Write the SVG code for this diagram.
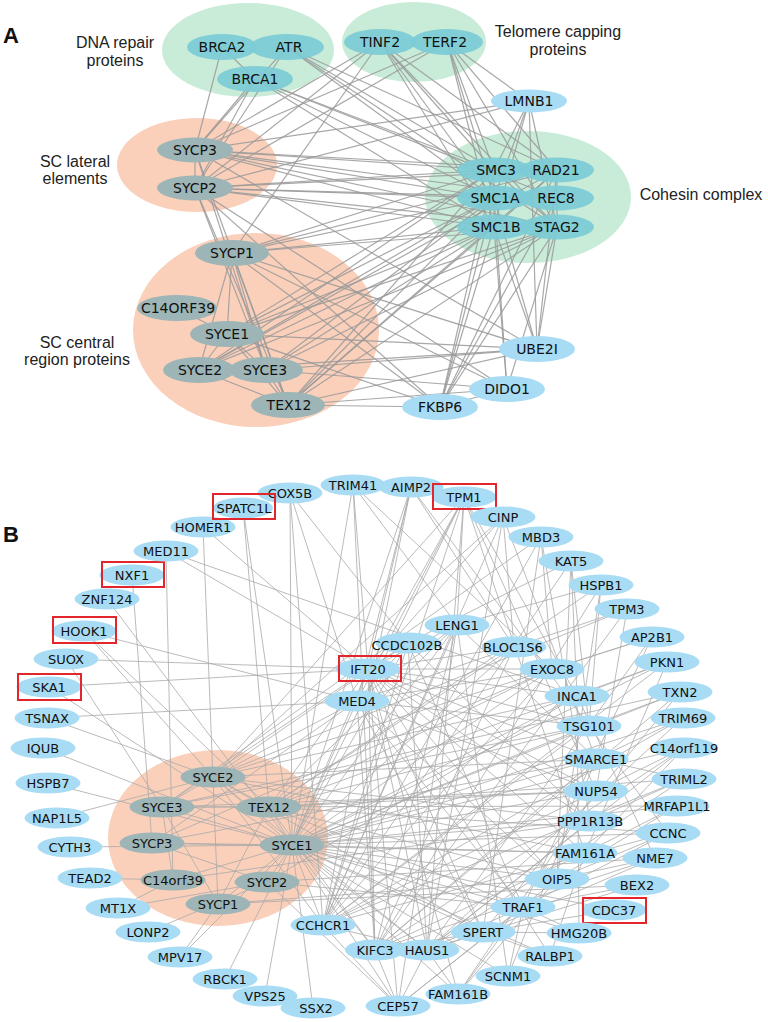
<svg xmlns="http://www.w3.org/2000/svg" width="768" height="1022" viewBox="0 0 768 1022">
<style>
.bg{fill:#ffffff}
.rg{fill:#c8ecd8}
.rp{fill:#fad0bb}
.ea line{stroke:#9a9a9a;stroke-width:1.2;opacity:.85}
.eb line{stroke:#a9a9a9;stroke-width:.8}
.t ellipse{fill:#7ccbd6;opacity:.92}
.g ellipse{fill:#9db5b6}
.b ellipse{fill:#a8dcf4}
.la{font-family:"DejaVu Sans",Verdana,sans-serif;font-size:14px;text-anchor:middle;dominant-baseline:central;fill:#111}
.lb{font-family:"DejaVu Sans",Verdana,sans-serif;font-size:13px;text-anchor:middle;dominant-baseline:central;fill:#111}
.cap{font-family:"Liberation Sans",Arial,sans-serif;font-size:16px;text-anchor:middle;fill:#222}
.pl{font-family:"Liberation Sans",Arial,sans-serif;font-size:22px;font-weight:bold;fill:#111}
.box{fill:none;stroke:#e3262b;stroke-width:2}
</style>
<rect class="bg" x="0" y="0" width="768" height="1022"/>
<text class="pl" x="3" y="43">A</text>
<text class="pl" x="3" y="542">B</text>

<g id="regions">
<g id="r-dna"><ellipse class="rg" cx="248" cy="50" rx="86" ry="47"/><text class="cap" x="115" y="48">DNA repair</text><text class="cap" x="115" y="66">proteins</text></g>
<g id="r-telomere"><ellipse class="rg" cx="414" cy="42" rx="72" ry="40"/><text class="cap" x="558" y="37">Telomere capping</text><text class="cap" x="558" y="55">proteins</text></g>
<g id="r-lateral"><ellipse class="rp" cx="197" cy="165" rx="80" ry="47"/><text class="cap" x="75" y="167">SC lateral</text><text class="cap" x="75" y="184">elements</text></g>
<g id="r-central"><ellipse class="rp" cx="256" cy="330" rx="123" ry="97"/><text class="cap" x="77" y="348">SC central</text><text class="cap" x="77" y="365">region proteins</text></g>
<g id="r-cohesin"><ellipse class="rg" cx="528" cy="197" rx="103" ry="66"/><text class="cap" x="701" y="200">Cohesin complex</text></g>
<g id="r-scB"><ellipse class="rp" cx="218" cy="838" rx="110" ry="88"/></g>
</g>

<g id="connectors-A" class="ea">
<line x1="222" y1="47" x2="255" y2="79"/><line x1="222" y1="47" x2="195" y2="150"/><line x1="287" y1="47" x2="195" y2="150"/><line x1="287" y1="47" x2="195" y2="188"/><line x1="255" y1="79" x2="195" y2="150"/><line x1="255" y1="79" x2="195" y2="188"/>
<line x1="287" y1="47" x2="494" y2="170"/><line x1="287" y1="47" x2="494" y2="198"/><line x1="287" y1="47" x2="557" y2="170"/><line x1="287" y1="47" x2="557" y2="227"/>
<line x1="255" y1="79" x2="494" y2="170"/><line x1="255" y1="79" x2="494" y2="198"/><line x1="255" y1="79" x2="557" y2="198"/><line x1="255" y1="79" x2="494" y2="227"/>
<line x1="380" y1="42" x2="195" y2="150"/><line x1="380" y1="42" x2="195" y2="188"/><line x1="380" y1="42" x2="232" y2="253"/><line x1="380" y1="42" x2="494" y2="170"/><line x1="380" y1="42" x2="494" y2="198"/><line x1="380" y1="42" x2="494" y2="227"/><line x1="380" y1="42" x2="557" y2="170"/><line x1="380" y1="42" x2="557" y2="227"/>
<line x1="447" y1="42" x2="195" y2="150"/><line x1="447" y1="42" x2="494" y2="170"/><line x1="447" y1="42" x2="494" y2="198"/><line x1="447" y1="42" x2="557" y2="170"/><line x1="447" y1="42" x2="557" y2="227"/><line x1="447" y1="42" x2="529" y2="101"/><line x1="447" y1="42" x2="494" y2="227"/><line x1="447" y1="42" x2="195" y2="188"/>
<line x1="529" y1="101" x2="195" y2="150"/><line x1="529" y1="101" x2="195" y2="188"/><line x1="529" y1="101" x2="494" y2="170"/><line x1="529" y1="101" x2="494" y2="198"/><line x1="529" y1="101" x2="557" y2="227"/><line x1="529" y1="101" x2="494" y2="227"/><line x1="529" y1="101" x2="537" y2="349"/>
<line x1="195" y1="150" x2="195" y2="188"/><line x1="195" y1="150" x2="494" y2="170"/><line x1="195" y1="150" x2="557" y2="170"/><line x1="195" y1="150" x2="494" y2="198"/><line x1="195" y1="150" x2="557" y2="198"/><line x1="195" y1="150" x2="494" y2="227"/><line x1="195" y1="150" x2="557" y2="227"/><line x1="195" y1="150" x2="288" y2="405"/><line x1="195" y1="150" x2="266" y2="370"/><line x1="195" y1="150" x2="537" y2="349"/>
<line x1="195" y1="188" x2="494" y2="170"/><line x1="195" y1="188" x2="557" y2="170"/><line x1="195" y1="188" x2="494" y2="198"/><line x1="195" y1="188" x2="557" y2="198"/><line x1="195" y1="188" x2="494" y2="227"/><line x1="195" y1="188" x2="557" y2="227"/><line x1="195" y1="188" x2="266" y2="370"/><line x1="195" y1="188" x2="288" y2="405"/><line x1="195" y1="188" x2="440" y2="407"/><line x1="195" y1="188" x2="507" y2="389"/>
<line x1="232" y1="253" x2="494" y2="170"/><line x1="232" y1="253" x2="494" y2="198"/><line x1="232" y1="253" x2="494" y2="227"/><line x1="232" y1="253" x2="557" y2="227"/><line x1="232" y1="253" x2="557" y2="170"/><line x1="232" y1="253" x2="227" y2="334"/><line x1="232" y1="253" x2="199" y2="370"/><line x1="232" y1="253" x2="266" y2="370"/><line x1="232" y1="253" x2="288" y2="405"/><line x1="232" y1="253" x2="440" y2="407"/><line x1="232" y1="253" x2="507" y2="389"/><line x1="232" y1="253" x2="537" y2="349"/>
<line x1="177" y1="308" x2="227" y2="334"/>
<line x1="227" y1="334" x2="199" y2="370"/><line x1="227" y1="334" x2="266" y2="370"/><line x1="227" y1="334" x2="288" y2="405"/><line x1="227" y1="334" x2="494" y2="170"/><line x1="227" y1="334" x2="494" y2="198"/><line x1="227" y1="334" x2="494" y2="227"/><line x1="227" y1="334" x2="557" y2="227"/><line x1="227" y1="334" x2="537" y2="349"/><line x1="227" y1="334" x2="440" y2="407"/>
<line x1="199" y1="370" x2="266" y2="370"/><line x1="199" y1="370" x2="288" y2="405"/><line x1="199" y1="370" x2="494" y2="170"/><line x1="199" y1="370" x2="494" y2="198"/><line x1="199" y1="370" x2="494" y2="227"/><line x1="199" y1="370" x2="557" y2="170"/><line x1="199" y1="370" x2="557" y2="227"/><line x1="199" y1="370" x2="537" y2="349"/>
<line x1="266" y1="370" x2="288" y2="405"/><line x1="266" y1="370" x2="494" y2="198"/><line x1="266" y1="370" x2="494" y2="227"/><line x1="266" y1="370" x2="557" y2="227"/><line x1="266" y1="370" x2="537" y2="349"/><line x1="266" y1="370" x2="507" y2="389"/>
<line x1="288" y1="405" x2="494" y2="170"/><line x1="288" y1="405" x2="494" y2="198"/><line x1="288" y1="405" x2="494" y2="227"/><line x1="288" y1="405" x2="557" y2="170"/><line x1="288" y1="405" x2="557" y2="227"/><line x1="288" y1="405" x2="440" y2="407"/><line x1="288" y1="405" x2="507" y2="389"/><line x1="288" y1="405" x2="537" y2="349"/>
<line x1="537" y1="349" x2="494" y2="198"/><line x1="537" y1="349" x2="494" y2="227"/><line x1="537" y1="349" x2="557" y2="227"/><line x1="537" y1="349" x2="557" y2="170"/>
<line x1="507" y1="389" x2="494" y2="198"/><line x1="507" y1="389" x2="494" y2="227"/><line x1="507" y1="389" x2="557" y2="227"/><line x1="507" y1="389" x2="440" y2="407"/>
<line x1="440" y1="407" x2="494" y2="198"/><line x1="440" y1="407" x2="494" y2="227"/><line x1="440" y1="407" x2="494" y2="170"/><line x1="440" y1="407" x2="557" y2="227"/><line x1="440" y1="407" x2="557" y2="170"/><line x1="440" y1="407" x2="557" y2="198"/>
<line x1="494" y1="170" x2="557" y2="170"/><line x1="494" y1="170" x2="494" y2="198"/><line x1="494" y1="198" x2="557" y2="198"/><line x1="494" y1="227" x2="557" y2="227"/><line x1="557" y1="198" x2="557" y2="227"/><line x1="557" y1="170" x2="557" y2="198"/><line x1="494" y1="198" x2="494" y2="227"/><line x1="494" y1="170" x2="557" y2="227"/><line x1="494" y1="227" x2="557" y2="170"/>
</g>

<g id="nodes-A">
<g id="a-BRCA2" class="t"><ellipse cx="222" cy="47" rx="35" ry="13"/><text class="la" x="222" y="47">BRCA2</text></g>
<g id="a-ATR" class="t"><ellipse cx="287" cy="47" rx="37" ry="13"/><text class="la" x="289" y="47">ATR</text></g>
<g id="a-BRCA1" class="t"><ellipse cx="255" cy="79" rx="38" ry="13"/><text class="la" x="255" y="79">BRCA1</text></g>
<g id="a-TINF2" class="t"><ellipse cx="380" cy="42" rx="36" ry="13"/><text class="la" x="380" y="42">TINF2</text></g>
<g id="a-TERF2" class="t"><ellipse cx="447" cy="42" rx="36" ry="13"/><text class="la" x="445" y="42">TERF2</text></g>
<g id="a-LMNB1" class="b"><ellipse cx="529" cy="101" rx="38" ry="11.5"/><text class="la" x="529" y="101">LMNB1</text></g>
<g id="a-SMC3" class="t"><ellipse cx="494" cy="170" rx="37" ry="12.5"/><text class="la" x="496" y="170">SMC3</text></g>
<g id="a-RAD21" class="t"><ellipse cx="557" cy="170" rx="37" ry="12.5"/><text class="la" x="556" y="170">RAD21</text></g>
<g id="a-SMC1A" class="t"><ellipse cx="494" cy="198" rx="37" ry="12.5"/><text class="la" x="495" y="198">SMC1A</text></g>
<g id="a-REC8" class="t"><ellipse cx="557" cy="198" rx="37" ry="12.5"/><text class="la" x="556" y="198">REC8</text></g>
<g id="a-SMC1B" class="t"><ellipse cx="494" cy="227" rx="37" ry="12.5"/><text class="la" x="496" y="227">SMC1B</text></g>
<g id="a-STAG2" class="t"><ellipse cx="557" cy="227" rx="37" ry="12.5"/><text class="la" x="557" y="227">STAG2</text></g>
<g id="a-SYCP3" class="g"><ellipse cx="195" cy="150" rx="38" ry="12.5"/><text class="la" x="195" y="150">SYCP3</text></g>
<g id="a-SYCP2" class="g"><ellipse cx="195" cy="188" rx="38" ry="12.5"/><text class="la" x="195" y="188">SYCP2</text></g>
<g id="a-SYCP1" class="g"><ellipse cx="232" cy="253" rx="37" ry="13"/><text class="la" x="232" y="253">SYCP1</text></g>
<g id="a-C14ORF39" class="g"><ellipse cx="177" cy="308" rx="40" ry="13"/><text class="la" x="178" y="308">C14ORF39</text></g>
<g id="a-SYCE1" class="g"><ellipse cx="227" cy="334" rx="37" ry="13"/><text class="la" x="227" y="334">SYCE1</text></g>
<g id="a-SYCE2" class="g"><ellipse cx="199" cy="370" rx="36" ry="13"/><text class="la" x="200" y="370">SYCE2</text></g>
<g id="a-SYCE3" class="g"><ellipse cx="266" cy="370" rx="37" ry="13"/><text class="la" x="265" y="370">SYCE3</text></g>
<g id="a-TEX12" class="g"><ellipse cx="288" cy="405" rx="37" ry="13"/><text class="la" x="289" y="405">TEX12</text></g>
<g id="a-UBE2I" class="b"><ellipse cx="537" cy="349" rx="38" ry="13"/><text class="la" x="537" y="349">UBE2I</text></g>
<g id="a-DIDO1" class="b"><ellipse cx="507" cy="389" rx="38" ry="13"/><text class="la" x="507" y="389">DIDO1</text></g>
<g id="a-FKBP6" class="b"><ellipse cx="440" cy="407" rx="38" ry="13"/><text class="la" x="440" y="407">FKBP6</text></g>
</g>

<g id="connectors-B" class="eb">
<line x1="292" y1="845" x2="213" y2="777"/><line x1="292" y1="845" x2="162" y2="807"/><line x1="292" y1="845" x2="269" y2="807"/><line x1="292" y1="845" x2="152" y2="843"/><line x1="292" y1="845" x2="173" y2="880"/><line x1="292" y1="845" x2="267" y2="882"/><line x1="292" y1="845" x2="218" y2="904"/><line x1="213" y1="777" x2="162" y2="807"/><line x1="213" y1="777" x2="269" y2="807"/><line x1="162" y1="807" x2="269" y2="807"/><line x1="152" y1="843" x2="267" y2="882"/><line x1="162" y1="807" x2="218" y2="904"/><line x1="269" y1="807" x2="218" y2="904"/><line x1="173" y1="880" x2="162" y2="807"/>
<line x1="43" y1="748" x2="292" y2="845"/><line x1="48" y1="783" x2="292" y2="845"/><line x1="57" y1="818" x2="213" y2="777"/><line x1="70" y1="847" x2="292" y2="845"/><line x1="90" y1="878" x2="173" y2="880"/><line x1="118" y1="908" x2="267" y2="882"/><line x1="148" y1="932" x2="267" y2="882"/><line x1="180" y1="957" x2="292" y2="845"/><line x1="225" y1="979" x2="292" y2="845"/><line x1="265" y1="996" x2="292" y2="845"/><line x1="313" y1="1008" x2="292" y2="845"/><line x1="323" y1="925" x2="213" y2="777"/><line x1="47" y1="718" x2="213" y2="777"/><line x1="49" y1="687" x2="292" y2="845"/><line x1="66" y1="659" x2="162" y2="807"/><line x1="84" y1="631" x2="213" y2="777"/><line x1="107" y1="599" x2="292" y2="845"/><line x1="132" y1="575" x2="152" y2="843"/><line x1="166" y1="551" x2="173" y2="880"/><line x1="203" y1="527" x2="218" y2="904"/><line x1="243" y1="508" x2="269" y2="807"/><line x1="243" y1="508" x2="292" y2="845"/><line x1="84" y1="631" x2="269" y2="807"/>
<line x1="292" y1="845" x2="552" y2="669"/><line x1="292" y1="845" x2="577" y2="696"/><line x1="292" y1="845" x2="589" y2="726"/><line x1="292" y1="845" x2="596" y2="759"/><line x1="292" y1="845" x2="596" y2="791"/><line x1="292" y1="845" x2="590" y2="821"/><line x1="292" y1="845" x2="585" y2="853"/><line x1="292" y1="845" x2="557" y2="879"/><line x1="292" y1="845" x2="523" y2="907"/><line x1="292" y1="845" x2="483" y2="932"/><line x1="292" y1="845" x2="427" y2="950"/><line x1="292" y1="845" x2="375" y2="950"/><line x1="292" y1="845" x2="323" y2="925"/><line x1="292" y1="845" x2="457" y2="625"/><line x1="292" y1="845" x2="408" y2="643"/><line x1="292" y1="845" x2="368" y2="669"/><line x1="292" y1="845" x2="357" y2="701"/><line x1="292" y1="845" x2="411" y2="487"/><line x1="292" y1="845" x2="464" y2="497"/><line x1="292" y1="845" x2="353" y2="485"/><line x1="292" y1="845" x2="290" y2="493"/><line x1="292" y1="845" x2="514" y2="647"/><line x1="292" y1="845" x2="683" y2="718"/><line x1="292" y1="845" x2="680" y2="692"/><line x1="292" y1="845" x2="667" y2="662"/><line x1="292" y1="845" x2="684" y2="748"/><line x1="292" y1="845" x2="677" y2="806"/><line x1="292" y1="845" x2="668" y2="833"/><line x1="292" y1="845" x2="579" y2="933"/><line x1="292" y1="845" x2="550" y2="956"/><line x1="292" y1="845" x2="508" y2="976"/><line x1="292" y1="845" x2="458" y2="994"/><line x1="292" y1="845" x2="398" y2="1006"/><line x1="292" y1="845" x2="614" y2="910"/>
<line x1="269" y1="807" x2="368" y2="669"/><line x1="269" y1="807" x2="457" y2="625"/><line x1="269" y1="807" x2="514" y2="647"/><line x1="269" y1="807" x2="552" y2="669"/><line x1="269" y1="807" x2="589" y2="726"/><line x1="269" y1="807" x2="596" y2="791"/><line x1="269" y1="807" x2="667" y2="662"/><line x1="269" y1="807" x2="684" y2="779"/><line x1="269" y1="807" x2="668" y2="833"/><line x1="269" y1="807" x2="557" y2="879"/><line x1="269" y1="807" x2="523" y2="907"/><line x1="269" y1="807" x2="375" y2="950"/><line x1="269" y1="807" x2="601" y2="585"/>
<line x1="213" y1="777" x2="357" y2="701"/><line x1="213" y1="777" x2="408" y2="643"/><line x1="213" y1="777" x2="577" y2="696"/><line x1="213" y1="777" x2="596" y2="759"/><line x1="213" y1="777" x2="590" y2="821"/><line x1="213" y1="777" x2="585" y2="853"/><line x1="213" y1="777" x2="627" y2="609"/><line x1="213" y1="777" x2="652" y2="637"/><line x1="213" y1="777" x2="427" y2="950"/><line x1="213" y1="777" x2="483" y2="932"/><line x1="213" y1="777" x2="503" y2="517"/><line x1="213" y1="777" x2="464" y2="497"/>
<line x1="162" y1="807" x2="368" y2="669"/><line x1="162" y1="807" x2="589" y2="726"/><line x1="162" y1="807" x2="596" y2="791"/><line x1="162" y1="807" x2="677" y2="806"/><line x1="162" y1="807" x2="680" y2="692"/><line x1="162" y1="807" x2="541" y2="537"/>
<line x1="152" y1="843" x2="357" y2="701"/><line x1="152" y1="843" x2="552" y2="669"/><line x1="152" y1="843" x2="596" y2="759"/><line x1="152" y1="843" x2="585" y2="853"/>
<line x1="267" y1="882" x2="577" y2="696"/><line x1="267" y1="882" x2="655" y2="858"/><line x1="267" y1="882" x2="523" y2="907"/><line x1="267" y1="882" x2="398" y2="1006"/>
<line x1="218" y1="904" x2="557" y2="879"/><line x1="218" y1="904" x2="637" y2="885"/><line x1="218" y1="904" x2="180" y2="957"/>
<line x1="173" y1="880" x2="118" y2="908"/><line x1="173" y1="880" x2="590" y2="821"/>
<line x1="323" y1="925" x2="457" y2="625"/><line x1="323" y1="925" x2="408" y2="643"/><line x1="323" y1="925" x2="464" y2="497"/><line x1="323" y1="925" x2="411" y2="487"/><line x1="323" y1="925" x2="503" y2="517"/><line x1="323" y1="925" x2="541" y2="537"/><line x1="323" y1="925" x2="571" y2="561"/><line x1="323" y1="925" x2="589" y2="726"/><line x1="323" y1="925" x2="596" y2="791"/><line x1="323" y1="925" x2="684" y2="779"/><line x1="323" y1="925" x2="667" y2="662"/><line x1="323" y1="925" x2="552" y2="669"/><line x1="323" y1="925" x2="398" y2="1006"/><line x1="323" y1="925" x2="427" y2="950"/><line x1="323" y1="925" x2="683" y2="718"/><line x1="323" y1="925" x2="668" y2="833"/><line x1="323" y1="925" x2="290" y2="493"/>
<line x1="375" y1="950" x2="368" y2="669"/><line x1="375" y1="950" x2="357" y2="701"/><line x1="375" y1="950" x2="457" y2="625"/><line x1="375" y1="950" x2="514" y2="647"/><line x1="375" y1="950" x2="601" y2="585"/><line x1="375" y1="950" x2="627" y2="609"/><line x1="375" y1="950" x2="680" y2="692"/><line x1="375" y1="950" x2="596" y2="759"/><line x1="375" y1="950" x2="585" y2="853"/><line x1="375" y1="950" x2="398" y2="1006"/><line x1="375" y1="950" x2="483" y2="932"/><line x1="375" y1="950" x2="353" y2="485"/><line x1="375" y1="950" x2="684" y2="748"/><line x1="375" y1="950" x2="655" y2="858"/>
<line x1="427" y1="950" x2="368" y2="669"/><line x1="427" y1="950" x2="408" y2="643"/><line x1="427" y1="950" x2="464" y2="497"/><line x1="427" y1="950" x2="652" y2="637"/><line x1="427" y1="950" x2="683" y2="718"/><line x1="427" y1="950" x2="684" y2="748"/><line x1="427" y1="950" x2="590" y2="821"/><line x1="427" y1="950" x2="523" y2="907"/><line x1="427" y1="950" x2="458" y2="994"/><line x1="427" y1="950" x2="398" y2="1006"/><line x1="427" y1="950" x2="483" y2="932"/><line x1="427" y1="950" x2="503" y2="517"/><line x1="427" y1="950" x2="684" y2="779"/><line x1="427" y1="950" x2="637" y2="885"/>
<line x1="398" y1="1006" x2="457" y2="625"/><line x1="398" y1="1006" x2="368" y2="669"/><line x1="398" y1="1006" x2="557" y2="879"/><line x1="398" y1="1006" x2="523" y2="907"/>
<line x1="458" y1="994" x2="368" y2="669"/><line x1="458" y1="994" x2="557" y2="879"/><line x1="458" y1="994" x2="523" y2="907"/><line x1="458" y1="994" x2="596" y2="791"/>
<line x1="508" y1="976" x2="523" y2="907"/><line x1="508" y1="976" x2="596" y2="759"/><line x1="508" y1="976" x2="457" y2="625"/>
<line x1="550" y1="956" x2="483" y2="932"/><line x1="550" y1="956" x2="585" y2="853"/><line x1="550" y1="956" x2="368" y2="669"/>
<line x1="579" y1="933" x2="523" y2="907"/><line x1="579" y1="933" x2="577" y2="696"/><line x1="579" y1="933" x2="483" y2="932"/>
<line x1="483" y1="932" x2="614" y2="910"/><line x1="483" y1="932" x2="655" y2="858"/><line x1="483" y1="932" x2="357" y2="701"/><line x1="483" y1="932" x2="368" y2="669"/><line x1="483" y1="932" x2="541" y2="537"/><line x1="483" y1="932" x2="680" y2="692"/>
<line x1="523" y1="907" x2="668" y2="833"/><line x1="523" y1="907" x2="637" y2="885"/><line x1="523" y1="907" x2="357" y2="701"/><line x1="523" y1="907" x2="408" y2="643"/><line x1="523" y1="907" x2="652" y2="637"/>
<line x1="557" y1="879" x2="655" y2="858"/><line x1="557" y1="879" x2="668" y2="833"/><line x1="557" y1="879" x2="368" y2="669"/><line x1="557" y1="879" x2="357" y2="701"/><line x1="557" y1="879" x2="571" y2="561"/><line x1="557" y1="879" x2="601" y2="585"/><line x1="557" y1="879" x2="677" y2="806"/>
<line x1="585" y1="853" x2="677" y2="806"/><line x1="585" y1="853" x2="368" y2="669"/><line x1="585" y1="853" x2="464" y2="497"/><line x1="585" y1="853" x2="684" y2="748"/><line x1="585" y1="853" x2="667" y2="662"/>
<line x1="590" y1="821" x2="684" y2="779"/><line x1="590" y1="821" x2="368" y2="669"/><line x1="590" y1="821" x2="408" y2="643"/><line x1="590" y1="821" x2="541" y2="537"/>
<line x1="596" y1="791" x2="684" y2="748"/><line x1="596" y1="791" x2="368" y2="669"/><line x1="596" y1="791" x2="357" y2="701"/><line x1="596" y1="791" x2="464" y2="497"/><line x1="596" y1="791" x2="627" y2="609"/>
<line x1="596" y1="759" x2="683" y2="718"/><line x1="596" y1="759" x2="368" y2="669"/><line x1="596" y1="759" x2="503" y2="517"/><line x1="596" y1="759" x2="457" y2="625"/><line x1="596" y1="759" x2="684" y2="779"/>
<line x1="589" y1="726" x2="680" y2="692"/><line x1="589" y1="726" x2="368" y2="669"/><line x1="589" y1="726" x2="357" y2="701"/><line x1="589" y1="726" x2="601" y2="585"/><line x1="589" y1="726" x2="411" y2="487"/><line x1="589" y1="726" x2="668" y2="833"/>
<line x1="577" y1="696" x2="667" y2="662"/><line x1="577" y1="696" x2="368" y2="669"/><line x1="577" y1="696" x2="464" y2="497"/><line x1="577" y1="696" x2="571" y2="561"/><line x1="577" y1="696" x2="655" y2="858"/><line x1="577" y1="696" x2="166" y2="551"/>
<line x1="552" y1="669" x2="652" y2="637"/><line x1="552" y1="669" x2="368" y2="669"/><line x1="552" y1="669" x2="357" y2="701"/><line x1="552" y1="669" x2="541" y2="537"/><line x1="552" y1="669" x2="353" y2="485"/>
<line x1="514" y1="647" x2="627" y2="609"/><line x1="514" y1="647" x2="368" y2="669"/><line x1="514" y1="647" x2="411" y2="487"/><line x1="514" y1="647" x2="503" y2="517"/><line x1="514" y1="647" x2="357" y2="701"/>
<line x1="457" y1="625" x2="601" y2="585"/><line x1="457" y1="625" x2="368" y2="669"/><line x1="457" y1="625" x2="353" y2="485"/><line x1="457" y1="625" x2="464" y2="497"/><line x1="457" y1="625" x2="357" y2="701"/>
<line x1="408" y1="643" x2="571" y2="561"/><line x1="408" y1="643" x2="368" y2="669"/><line x1="408" y1="643" x2="290" y2="493"/><line x1="408" y1="643" x2="357" y2="701"/>
<line x1="368" y1="669" x2="66" y2="659"/><line x1="368" y1="669" x2="49" y2="687"/><line x1="368" y1="669" x2="464" y2="497"/><line x1="368" y1="669" x2="353" y2="485"/><line x1="368" y1="669" x2="411" y2="487"/><line x1="368" y1="669" x2="357" y2="701"/><line x1="368" y1="669" x2="503" y2="517"/><line x1="368" y1="669" x2="203" y2="527"/><line x1="368" y1="669" x2="166" y2="551"/>
<line x1="357" y1="701" x2="47" y2="718"/><line x1="357" y1="701" x2="290" y2="493"/><line x1="357" y1="701" x2="464" y2="497"/><line x1="357" y1="701" x2="411" y2="487"/><line x1="357" y1="701" x2="84" y2="631"/>
<line x1="571" y1="561" x2="589" y2="726"/>
</g>

<g id="nodes-B">
<g id="b-COX5B" class="b"><ellipse cx="290" cy="493" rx="32.5" ry="10.5"/><text class="lb" x="290" y="493">COX5B</text></g>
<g id="b-TRIM41" class="b"><ellipse cx="353" cy="485" rx="32.5" ry="10.5"/><text class="lb" x="353" y="485">TRIM41</text></g>
<g id="b-AIMP2" class="b"><ellipse cx="411" cy="487" rx="32.5" ry="10.5"/><text class="lb" x="411" y="487">AIMP2</text></g>
<g id="b-TPM1" class="b"><ellipse cx="464" cy="497" rx="32.5" ry="10.5"/><text class="lb" x="464" y="497">TPM1</text><rect class="box" x="433" y="484" width="63" height="25"/></g>
<g id="b-CINP" class="b"><ellipse cx="503" cy="517" rx="32.5" ry="10.5"/><text class="lb" x="503" y="517">CINP</text></g>
<g id="b-MBD3" class="b"><ellipse cx="541" cy="537" rx="32.5" ry="10.5"/><text class="lb" x="541" y="537">MBD3</text></g>
<g id="b-KAT5" class="b"><ellipse cx="571" cy="561" rx="32.5" ry="10.5"/><text class="lb" x="571" y="561">KAT5</text></g>
<g id="b-HSPB1" class="b"><ellipse cx="601" cy="585" rx="32.5" ry="10.5"/><text class="lb" x="601" y="585">HSPB1</text></g>
<g id="b-TPM3" class="b"><ellipse cx="627" cy="609" rx="32.5" ry="10.5"/><text class="lb" x="627" y="609">TPM3</text></g>
<g id="b-AP2B1" class="b"><ellipse cx="652" cy="637" rx="32.5" ry="10.5"/><text class="lb" x="652" y="637">AP2B1</text></g>
<g id="b-PKN1" class="b"><ellipse cx="667" cy="662" rx="32.5" ry="10.5"/><text class="lb" x="667" y="662">PKN1</text></g>
<g id="b-TXN2" class="b"><ellipse cx="680" cy="692" rx="32.5" ry="10.5"/><text class="lb" x="680" y="692">TXN2</text></g>
<g id="b-TRIM69" class="b"><ellipse cx="683" cy="718" rx="32.5" ry="10.5"/><text class="lb" x="683" y="718">TRIM69</text></g>
<g id="b-C14orf119" class="b"><ellipse cx="684" cy="748" rx="32.5" ry="10.5"/><text class="lb" x="684" y="748">C14orf119</text></g>
<g id="b-TRIML2" class="b"><ellipse cx="684" cy="779" rx="32.5" ry="10.5"/><text class="lb" x="684" y="779">TRIML2</text></g>
<g id="b-MRFAP1L1" class="b"><ellipse cx="677" cy="806" rx="32.5" ry="10.5"/><text class="lb" x="677" y="806">MRFAP1L1</text></g>
<g id="b-CCNC" class="b"><ellipse cx="668" cy="833" rx="32.5" ry="10.5"/><text class="lb" x="668" y="833">CCNC</text></g>
<g id="b-NME7" class="b"><ellipse cx="655" cy="858" rx="32.5" ry="10.5"/><text class="lb" x="655" y="858">NME7</text></g>
<g id="b-BEX2" class="b"><ellipse cx="637" cy="885" rx="32.5" ry="10.5"/><text class="lb" x="637" y="885">BEX2</text></g>
<g id="b-CDC37" class="b"><ellipse cx="614" cy="910" rx="32.5" ry="10.5"/><text class="lb" x="614" y="910">CDC37</text><rect class="box" x="583" y="898" width="63" height="25"/></g>
<g id="b-HMG20B" class="b"><ellipse cx="579" cy="933" rx="32.5" ry="10.5"/><text class="lb" x="579" y="933">HMG20B</text></g>
<g id="b-RALBP1" class="b"><ellipse cx="550" cy="956" rx="32.5" ry="10.5"/><text class="lb" x="550" y="956">RALBP1</text></g>
<g id="b-SCNM1" class="b"><ellipse cx="508" cy="976" rx="32.5" ry="10.5"/><text class="lb" x="508" y="976">SCNM1</text></g>
<g id="b-FAM161B" class="b"><ellipse cx="458" cy="994" rx="32.5" ry="10.5"/><text class="lb" x="458" y="994">FAM161B</text></g>
<g id="b-CEP57" class="b"><ellipse cx="398" cy="1006" rx="32.5" ry="10.5"/><text class="lb" x="398" y="1006">CEP57</text></g>
<g id="b-SSX2" class="b"><ellipse cx="313" cy="1008" rx="32.5" ry="10.5"/><text class="lb" x="316" y="1008">SSX2</text></g>
<g id="b-VPS25" class="b"><ellipse cx="265" cy="996" rx="32.5" ry="10.5"/><text class="lb" x="265" y="996">VPS25</text></g>
<g id="b-RBCK1" class="b"><ellipse cx="225" cy="979" rx="32.5" ry="10.5"/><text class="lb" x="225" y="979">RBCK1</text></g>
<g id="b-MPV17" class="b"><ellipse cx="180" cy="957" rx="32.5" ry="10.5"/><text class="lb" x="180" y="957">MPV17</text></g>
<g id="b-LONP2" class="b"><ellipse cx="148" cy="932" rx="32.5" ry="10.5"/><text class="lb" x="148" y="932">LONP2</text></g>
<g id="b-MT1X" class="b"><ellipse cx="118" cy="908" rx="32.5" ry="10.5"/><text class="lb" x="118" y="908">MT1X</text></g>
<g id="b-TEAD2" class="b"><ellipse cx="90" cy="878" rx="32.5" ry="10.5"/><text class="lb" x="90" y="878">TEAD2</text></g>
<g id="b-CYTH3" class="b"><ellipse cx="70" cy="847" rx="32.5" ry="10.5"/><text class="lb" x="70" y="847">CYTH3</text></g>
<g id="b-NAP1L5" class="b"><ellipse cx="57" cy="818" rx="32.5" ry="10.5"/><text class="lb" x="57" y="818">NAP1L5</text></g>
<g id="b-HSPB7" class="b"><ellipse cx="48" cy="783" rx="32.5" ry="10.5"/><text class="lb" x="48" y="783">HSPB7</text></g>
<g id="b-IQUB" class="b"><ellipse cx="43" cy="748" rx="32.5" ry="10.5"/><text class="lb" x="43" y="748">IQUB</text></g>
<g id="b-TSNAX" class="b"><ellipse cx="47" cy="718" rx="32.5" ry="10.5"/><text class="lb" x="47" y="718">TSNAX</text></g>
<g id="b-SKA1" class="b"><ellipse cx="49" cy="687" rx="32.5" ry="10.5"/><text class="lb" x="49" y="687">SKA1</text><rect class="box" x="18" y="674" width="63" height="26"/></g>
<g id="b-SUOX" class="b"><ellipse cx="66" cy="659" rx="32.5" ry="10.5"/><text class="lb" x="66" y="659">SUOX</text></g>
<g id="b-HOOK1" class="b"><ellipse cx="84" cy="631" rx="32.5" ry="10.5"/><text class="lb" x="84" y="631">HOOK1</text><rect class="box" x="53" y="617" width="63" height="26"/></g>
<g id="b-ZNF124" class="b"><ellipse cx="107" cy="599" rx="32.5" ry="10.5"/><text class="lb" x="107" y="599">ZNF124</text></g>
<g id="b-NXF1" class="b"><ellipse cx="132" cy="575" rx="32.5" ry="10.5"/><text class="lb" x="132" y="575">NXF1</text><rect class="box" x="102" y="562" width="62" height="25"/></g>
<g id="b-MED11" class="b"><ellipse cx="166" cy="551" rx="32.5" ry="10.5"/><text class="lb" x="166" y="551">MED11</text></g>
<g id="b-HOMER1" class="b"><ellipse cx="203" cy="527" rx="32.5" ry="10.5"/><text class="lb" x="203" y="527">HOMER1</text></g>
<g id="b-SPATC1L" class="b"><ellipse cx="243" cy="508" rx="30" ry="10.5"/><text class="lb" x="244" y="508">SPATC1L</text><rect class="box" x="213" y="494" width="62" height="25"/></g>
<g id="b-LENG1" class="b"><ellipse cx="457" cy="625" rx="32.5" ry="10.5"/><text class="lb" x="457" y="625">LENG1</text></g>
<g id="b-CCDC102B" class="b"><ellipse cx="408" cy="643" rx="32.5" ry="10.5"/><text class="lb" x="407" y="645">CCDC102B</text></g>
<g id="b-IFT20" class="b"><ellipse cx="368" cy="669" rx="32.5" ry="10.5"/><text class="lb" x="368" y="669">IFT20</text><rect class="box" x="339" y="656" width="62" height="25"/></g>
<g id="b-MED4" class="b"><ellipse cx="357" cy="701" rx="32.5" ry="10.5"/><text class="lb" x="357" y="701">MED4</text></g>
<g id="b-BLOC1S6" class="b"><ellipse cx="514" cy="647" rx="32.5" ry="10.5"/><text class="lb" x="513" y="647">BLOC1S6</text></g>
<g id="b-EXOC8" class="b"><ellipse cx="552" cy="669" rx="32.5" ry="10.5"/><text class="lb" x="552" y="669">EXOC8</text></g>
<g id="b-INCA1" class="b"><ellipse cx="577" cy="696" rx="32.5" ry="10.5"/><text class="lb" x="577" y="696">INCA1</text></g>
<g id="b-TSG101" class="b"><ellipse cx="589" cy="726" rx="32.5" ry="10.5"/><text class="lb" x="589" y="726">TSG101</text></g>
<g id="b-SMARCE1" class="b"><ellipse cx="596" cy="759" rx="32.5" ry="10.5"/><text class="lb" x="596" y="759">SMARCE1</text></g>
<g id="b-NUP54" class="b"><ellipse cx="596" cy="791" rx="32.5" ry="10.5"/><text class="lb" x="596" y="791">NUP54</text></g>
<g id="b-PPP1R13B" class="b"><ellipse cx="590" cy="821" rx="32.5" ry="10.5"/><text class="lb" x="590" y="821">PPP1R13B</text></g>
<g id="b-FAM161A" class="b"><ellipse cx="585" cy="853" rx="32.5" ry="10.5"/><text class="lb" x="585" y="853">FAM161A</text></g>
<g id="b-OIP5" class="b"><ellipse cx="557" cy="879" rx="32.5" ry="10.5"/><text class="lb" x="557" y="879">OIP5</text></g>
<g id="b-TRAF1" class="b"><ellipse cx="523" cy="907" rx="32.5" ry="10.5"/><text class="lb" x="523" y="907">TRAF1</text></g>
<g id="b-SPERT" class="b"><ellipse cx="483" cy="932" rx="32.5" ry="10.5"/><text class="lb" x="483" y="932">SPERT</text></g>
<g id="b-HAUS1" class="b"><ellipse cx="427" cy="950" rx="32.5" ry="10.5"/><text class="lb" x="427" y="950">HAUS1</text></g>
<g id="b-KIFC3" class="b"><ellipse cx="375" cy="950" rx="30" ry="10.5"/><text class="lb" x="375" y="950">KIFC3</text></g>
<g id="b-CCHCR1" class="b"><ellipse cx="323" cy="925" rx="32.5" ry="10.5"/><text class="lb" x="323" y="925">CCHCR1</text></g>
<g id="b-SYCE2" class="g"><ellipse cx="213" cy="777" rx="32.5" ry="10.5"/><text class="lb" x="213" y="777">SYCE2</text></g>
<g id="b-SYCE3" class="g"><ellipse cx="162" cy="807" rx="32.5" ry="10.5"/><text class="lb" x="162" y="807">SYCE3</text></g>
<g id="b-TEX12" class="g"><ellipse cx="269" cy="807" rx="32.5" ry="10.5"/><text class="lb" x="269" y="807">TEX12</text></g>
<g id="b-SYCP3" class="g"><ellipse cx="152" cy="843" rx="32.5" ry="10.5"/><text class="lb" x="152" y="843">SYCP3</text></g>
<g id="b-SYCE1" class="g"><ellipse cx="292" cy="845" rx="32.5" ry="10.5"/><text class="lb" x="292" y="845">SYCE1</text></g>
<g id="b-C14orf39" class="g"><ellipse cx="173" cy="880" rx="32.5" ry="10.5"/><text class="lb" x="173" y="880">C14orf39</text></g>
<g id="b-SYCP2" class="g"><ellipse cx="267" cy="882" rx="32.5" ry="10.5"/><text class="lb" x="267" y="882">SYCP2</text></g>
<g id="b-SYCP1" class="g"><ellipse cx="218" cy="904" rx="32.5" ry="10.5"/><text class="lb" x="218" y="904">SYCP1</text></g>
</g>
</svg>
